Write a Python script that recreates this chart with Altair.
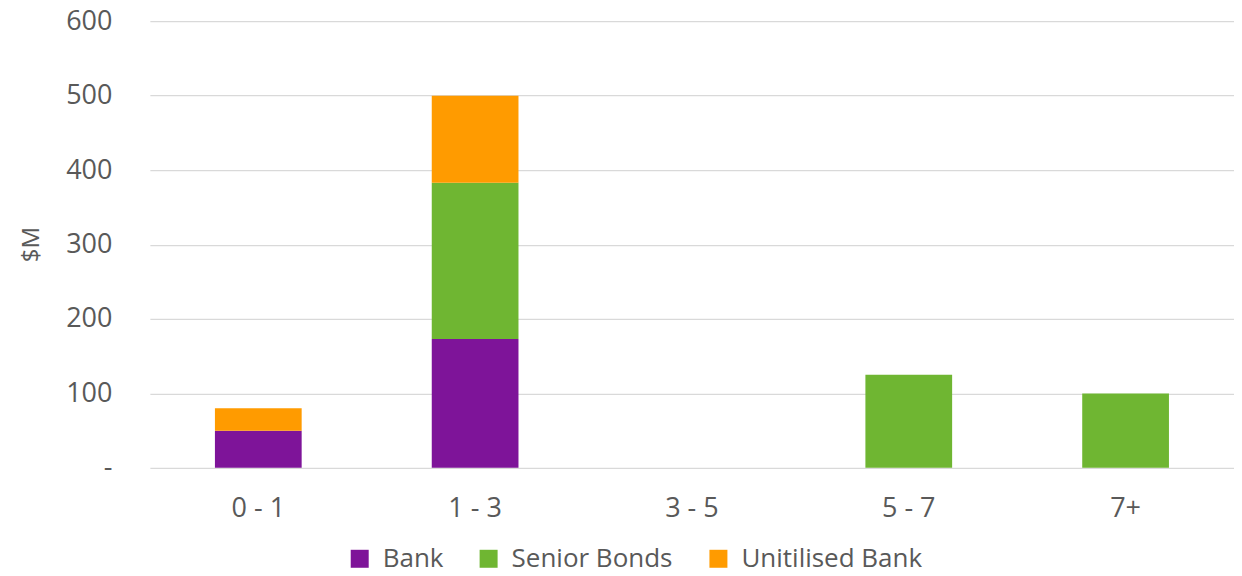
import altair as alt
import pandas as pd

categories = ["0 - 1", "1 - 3", "3 - 5", "5 - 7", "7+"]
series = ["Bank", "Senior Bonds", "Unitilised Bank"]
bank = [50, 173, 0, 0, 0]
senior_bonds = [0, 210, 0, 125, 100]
unutilised_bank = [30, 117, 0, 0, 0]
colors = ["#7E1499", "#6FB632", "#FF9B00"]
y_ticks = [0, 100, 200, 300, 400, 500, 600]

rows = []
for s_idx, (name, vals) in enumerate(zip(series, [bank, senior_bonds, unutilised_bank])):
    for cat, v in zip(categories, vals):
        if v > 0:
            rows.append({"Maturity": cat, "Series": name, "Value": v, "Order": s_idx})
df = pd.DataFrame(rows)

FONT = "Open Sans"
TXT = "#595959"

chart = alt.Chart(df).mark_bar().encode(
    x=alt.X(
        "Maturity:N",
        scale=alt.Scale(domain=categories, paddingInner=0.6, paddingOuter=0.3),
        sort=categories,
        axis=alt.Axis(
            title=None, labelAngle=0, ticks=False, tickSize=0, domain=False,
            labelFont=FONT, labelFontSize=27, labelColor=TXT,
            labelBaseline="middle", labelPadding=41, grid=False,
        ),
    ),
    y=alt.Y(
        "Value:Q",
        stack="zero",
        scale=alt.Scale(domain=[0, 600], nice=False),
        axis=alt.Axis(
            title="$M", values=y_ticks, ticks=False, tickSize=0, domain=False,
            labelExpr="datum.value == 0 ? '-' : datum.label",
            labelFont=FONT, labelFontSize=27, labelColor=TXT, labelPadding=38,
            gridColor="#D9D9D9", gridWidth=1.3,
            titleFont=FONT, titleFontSize=24, titleColor=TXT, titleFontWeight="normal",
            titleX=-118, titleY=223, titleAngle=270, titleAlign="center", titleBaseline="middle",
        ),
    ),
    color=alt.Color(
        "Series:N",
        scale=alt.Scale(domain=series, range=colors),
        legend=alt.Legend(
            title=None, orient="none", direction="horizontal",
            legendX=197, legendY=525, padding=0,
            symbolType="square", symbolSize=324, symbolStrokeWidth=0,
            labelFont=FONT, labelFontSize=26, labelColor=TXT, labelOffset=10,
            columnPadding=32, labelLimit=400,
        ),
    ),
    order=alt.Order("Order:Q", sort="ascending"),
).properties(
    width=1085,
    height=447,
    padding={"left": 142, "top": 13, "right": 0, "bottom": 100},
    autosize=alt.AutoSizeParams(type="none"),
).configure_view(stroke=None)

chart.save("out.html", embed_options={"renderer": "svg", "actions": False})
